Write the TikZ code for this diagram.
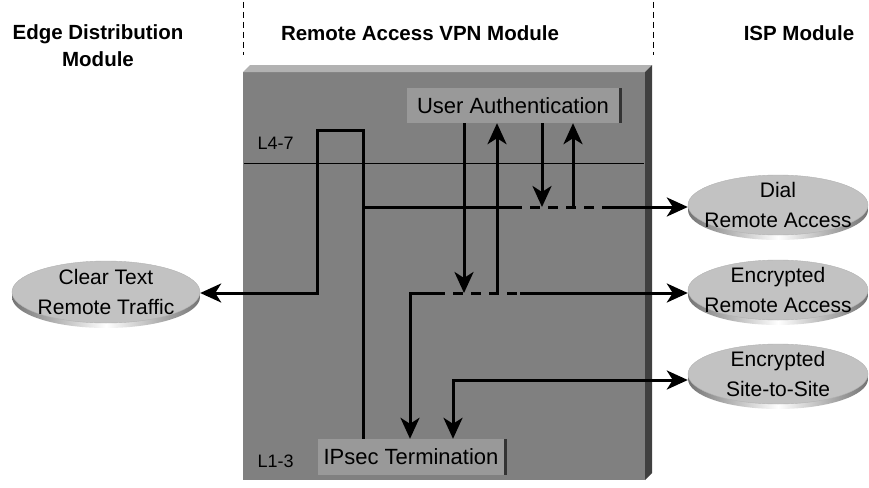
\documentclass[tikz,border=0pt]{standalone}
\usepackage{fontspec}
\setmainfont{Liberation Sans}
\usetikzlibrary{arrows.meta,shapes.geometric,shadows}
\begin{document}
\begin{tikzpicture}[x=1pt,y=-1pt,
	flow/.style={line width=3pt},
	tip/.style={-{Stealth[length=21pt,width=19pt,inset=6pt]}},
	twotip/.style={{Stealth[length=21pt,width=19pt,inset=6pt]}-{Stealth[length=21pt,width=19pt,inset=6pt]}},
	hdr/.style={font=\fontsize{20.5}{27}\selectfont\bfseries,align=center},
	ibox/.style={fill=black!40,inner sep=0pt,font=\fontsize{22}{24}\selectfont,
		general shadow={shadow xshift=3pt,fill=black!80}},
	module/.style={ellipse,fill=black!24,draw=black!30,line width=0.4pt,
		minimum width=180pt,minimum height=60pt,inner xsep=-16pt,inner ysep=-10pt,align=center,
		font=\fontsize{21}{30}\selectfont,
		general shadow={shadow yshift=-5pt,left color=black!55,right color=black!55,middle color=white}},
	layer/.style={font=\fontsize{18}{20}\selectfont,anchor=west}]
	\useasboundingbox (0,0) rectangle (869,487);
	
	% headings
	\draw[dash pattern=on 6pt off 4pt] (243,2) -- (243,55);
	\draw[dash pattern=on 6pt off 4pt] (653,2) -- (653,55);
	\node[hdr] (hedge) at (98,46) {Edge Distribution\\Module};
	\node[hdr] (hvpn) at (420,33) {Remote Access VPN Module};
	\node[hdr] (hisp) at (799,33) {ISP Module};
	
	% module box
	\fill[black!50] (243,72) rectangle (645,480);
	\fill[black!30] (243,72) -- (250,65) -- (652,65) -- (645,72) -- cycle;
	\fill[black!75] (645,72) -- (652,65) -- (652,473) -- (645,480) -- cycle;
	\draw[line width=0.8pt] (244,163) -- (644,163);
	\node[layer] (l47) at (254,143) {L4-7};
	\node[layer] (l13) at (254,461) {L1-3};
	
	\node[ibox,minimum width=212pt,minimum height=35pt] (ua) at (513,105.5) {User Authentication};
	\node[ibox,minimum width=186pt,minimum height=36pt] (ipsec) at (411,457) {IPsec Termination};
	
	% outside modules
	\node[module,minimum width=188pt,minimum height=62pt] (ctr) at (106,292) {Clear Text\\Remote Traffic};
	\node[module] (dra) at (778,205) {Dial\\Remote Access};
	\node[module] (era) at (778,290) {Encrypted\\Remote Access};
	\node[module] (ess) at (778,374) {Encrypted\\Site-to-Site};
	
	% clear text
	\draw[flow,tip] (ipsec.north -| 363,0) |- (317,130) -- (317,293) -- (ctr.east |- 0,293);
	
	% dial
	\draw[flow] (363,207) -- (512,207);
	\draw[flow,dash pattern=on 10pt off 8pt] (512,207) -- (602,207);
	\draw[flow,tip] (602,207) -- (dra.west |- 0,207);
	\draw[flow,tip] (ua.south -| 542,0) -- (542,207);
	\draw[flow,tip] (573,207) -- (ua.south -| 573,0);
	
	% encrypted remote access
	\draw[flow,tip] (435,293) -- (410,293) -- (ipsec.north -| 410,0);
	\draw[flow,dash pattern=on 10pt off 8pt] (435,293) -- (520,293);
	\draw[flow,tip] (520,293) -- (era.west |- 0,293);
	\draw[flow,tip] (ua.south -| 464,0) -- (464,293);
	\draw[flow,tip] (497,293) -- (ua.south -| 497,0);
	
	% site to site
	\draw[flow,twotip] (ipsec.north -| 453,0) |- (ess.west |- 0,380);
\end{tikzpicture}
\end{document}
